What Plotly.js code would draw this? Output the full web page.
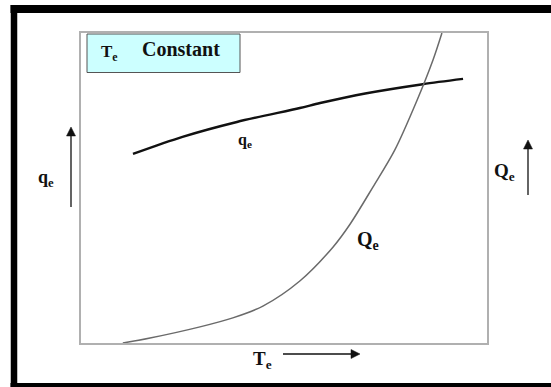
<!DOCTYPE html>
<html>
<head>
<meta charset="utf-8">
<script src="https://cdn.plot.ly/plotly-3.0.1.min.js"></script>
<style>html,body{margin:0;padding:0;background:#fff;}</style>
</head>
<body>
<div id="chart" style="width:551px;height:387px;"></div>
<script>
// Evaporator temperature (relative units, 0-100)
const qeT = [12.8, 25.0, 38.4, 53.9, 58.9, 70.0, 84.2, 94.1];
const qeVal = [61.0, 66.5, 71.3, 75.8, 77.4, 80.5, 83.5, 85.2];
const QeT = [10.3, 17.0, 29.3, 37.4, 44.8, 53.9, 62.1, 66.3, 71.9, 77.3, 82.8, 86.7, 88.9];
const QeVal = [0, 1.6, 5.2, 8.1, 11.9, 20.0, 31.0, 38.4, 50.3, 62.3, 78.4, 91.3, 100];
const boxLabel = ["T<sub>e</sub>", "Constant"];

// plot area in pixels
const L = 81, R = 487, T = 33, B = 343;
const px = x => (x - L) / (R - L);
const py = y => (B - y) / (B - T);
const fam = "Liberation Serif, Times New Roman, serif";
const F = s => ({family: fam, size: s, color: "#111"});

const traces = [
  {x: qeT, y: qeVal, mode: "lines", line: {color: "#111", width: 2.5, shape: "spline", smoothing: 0.8}, hoverinfo: "skip"},
  {x: QeT, y: QeVal, mode: "lines", line: {color: "#6a6a6a", width: 1.5, shape: "spline", smoothing: 0.9}, hoverinfo: "skip"}
];

function arrow(x0, y0, x1, y1) {
  const dx = x1 - x0, dy = y1 - y0, len = Math.hypot(dx, dy);
  const ux = dx / len, uy = dy / len, h = 9, w = 4.5;
  const bx = x1 - ux * h, by = y1 - uy * h;
  const p1 = [bx - uy * w, by + ux * w], p2 = [bx + uy * w, by - ux * w];
  return [
    {type: "line", xref: "paper", yref: "paper", x0: px(x0), y0: py(y0), x1: px(bx), y1: py(by), line: {color: "#111", width: 1.3}},
    {type: "path", xref: "paper", yref: "paper",
     path: `M ${px(x1)} ${py(y1)} L ${px(p1[0])} ${py(p1[1])} L ${px(p2[0])} ${py(p2[1])} Z`,
     fillcolor: "#111", line: {color: "#111", width: 0.5}}
  ];
}

const layout = {
  width: 551, height: 387,
  margin: {l: L, r: 551 - R, t: T, b: 387 - B, pad: 0},
  paper_bgcolor: "#fff", plot_bgcolor: "#fff",
  showlegend: false,
  xaxis: {range: [0, 100], showgrid: false, zeroline: false, showticklabels: false, ticks: "",
          showline: true, mirror: true, linecolor: "#b0b0b0", linewidth: 2},
  yaxis: {range: [0, 100], showgrid: false, zeroline: false, showticklabels: false, ticks: "",
          showline: true, mirror: true, linecolor: "#b0b0b0", linewidth: 2},
  shapes: [
    {type: "line", xref: "paper", yref: "paper", x0: px(14), x1: px(14), y0: py(5), y1: py(387), line: {color: "#000", width: 6.5}},
    {type: "line", xref: "paper", yref: "paper", x0: px(10.5), x1: px(551), y0: py(9), y1: py(9), line: {color: "#000", width: 8}},
    {type: "line", xref: "paper", yref: "paper", x0: px(10.5), x1: px(551), y0: py(385), y1: py(385), line: {color: "#000", width: 4}},
    {type: "rect", xref: "paper", yref: "paper", x0: px(87), x1: px(240), y0: py(34), y1: py(72.5),
     fillcolor: "#ccffff", line: {color: "#555", width: 1}}
  ].concat(arrow(71, 207, 71, 127), arrow(528, 195, 528, 140), arrow(283, 354, 360, 354)),
  annotations: [
    {xref: "paper", yref: "paper", x: px(99), y: py(53), xanchor: "left", yanchor: "middle", showarrow: false,
     text: "<b>" + boxLabel[0] + "</b>", font: F(17)},
    {xref: "paper", yref: "paper", x: px(140), y: py(49), xanchor: "left", yanchor: "middle", showarrow: false,
     text: "<b>" + boxLabel[1] + "</b>", font: F(20)},
    {xref: "paper", yref: "paper", x: px(236), y: py(140), xanchor: "left", yanchor: "middle", showarrow: false,
     text: "<b>q<sub>e</sub></b>", font: F(16)},
    {xref: "paper", yref: "paper", x: px(355), y: py(241), xanchor: "left", yanchor: "middle", showarrow: false,
     text: "<b>Q<sub>e</sub></b>", font: F(20)},
    {xref: "paper", yref: "paper", x: px(36), y: py(178), xanchor: "left", yanchor: "middle", showarrow: false,
     text: "<b>q<sub>e</sub></b>", font: F(18)},
    {xref: "paper", yref: "paper", x: px(492), y: py(172), xanchor: "left", yanchor: "middle", showarrow: false,
     text: "<b>Q<sub>e</sub></b>", font: F(19)},
    {xref: "paper", yref: "paper", x: px(251), y: py(360), xanchor: "left", yanchor: "middle", showarrow: false,
     text: "<b>T<sub>e</sub></b>", font: F(19)}
  ]
};

Plotly.newPlot("chart", traces, layout, {staticPlot: true, displayModeBar: false});
</script>
</body>
</html>
